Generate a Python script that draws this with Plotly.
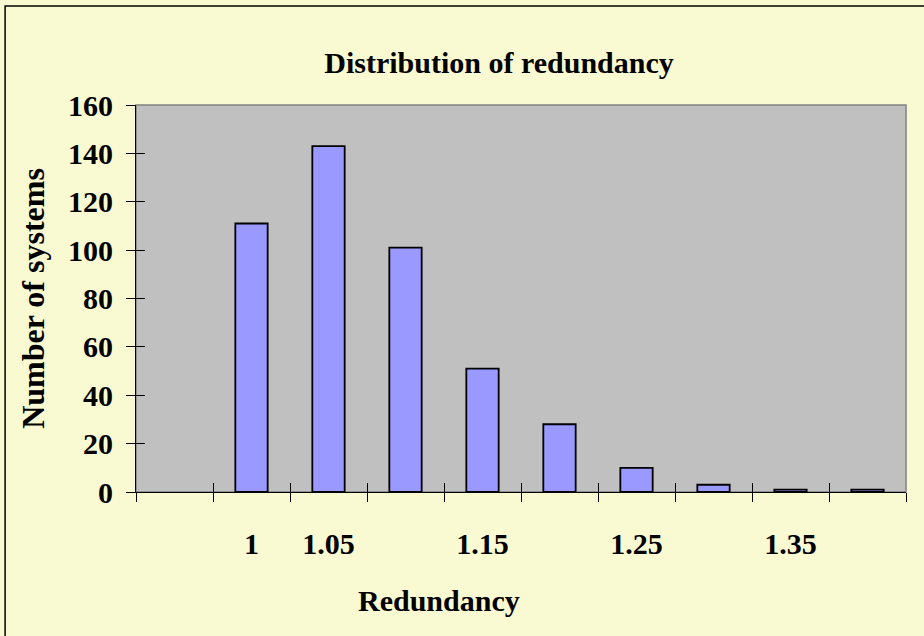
import plotly.graph_objects as go

categories = ["0.95", "1", "1.05", "1.1", "1.15", "1.2", "1.25", "1.3", "1.35", "1.4"]
tick_labels = ["", "1", "1.05", "", "1.15", "", "1.25", "", "1.35", ""]
counts = [None, 111, 143, 101, 51, 28, 10, 3, 1, 1]
y_ticks = [0, 20, 40, 60, 80, 100, 120, 140, 160]

FONT = "Liberation Serif"
BG = "#FAFAD2"
n = len(categories)
idx = list(range(n))
bounds = [i - 0.5 for i in range(n + 1)]

fig = go.Figure()
fig.add_trace(go.Bar(
    x=idx, y=counts,
    marker=dict(color="#9999FF", line=dict(color="black", width=1.8)),
    width=0.42,
    showlegend=False,
))

base_axis = dict(range=[-0.5, n - 0.5], showgrid=False, zeroline=False, fixedrange=True)
fig.update_layout(
    width=924, height=636,
    paper_bgcolor=BG, plot_bgcolor="#C0C0C0",
    margin=dict(l=136, r=18, t=105, b=144, autoexpand=False),
    title=dict(text="<b>Distribution of redundancy</b>", x=499 / 924, xanchor="center",
               y=1 - 62 / 636, yanchor="middle",
               font=dict(family=FONT, size=30, color="black")),
    font=dict(family=FONT, color="black"),
    xaxis=dict(**base_axis, tickvals=bounds, ticktext=[""] * len(bounds),
               ticks="outside", ticklen=9, tickwidth=1.2, tickcolor="black",
               showline=True, linecolor="black", linewidth=1.2),
    xaxis2=dict(**base_axis, overlaying="x", anchor="y", side="bottom",
                tickvals=bounds, ticktext=[""] * len(bounds),
                ticks="inside", ticklen=9, tickwidth=1.2, tickcolor="black", showline=False),
    xaxis3=dict(**base_axis, overlaying="x", anchor="y", side="bottom",
                tickvals=idx, ticktext=["<b>%s</b>" % t if t else "" for t in tick_labels],
                ticks="outside", ticklen=25, tickcolor="rgba(0,0,0,0)",
                tickfont=dict(family=FONT, size=30, color="black"), showline=False),
    yaxis=dict(range=[0, 160], tickvals=y_ticks, ticktext=["<b>%d</b>" % v for v in y_ticks],
               ticks="outside", ticklen=9, tickwidth=1.2, tickcolor="black",
               tickfont=dict(family=FONT, size=30, color="black"),
               ticklabelstandoff=7,
               showline=True, linecolor="black", linewidth=1.2,
               showgrid=False, zeroline=False, fixedrange=True,
               title=dict(text="<b>Number of systems</b>", font=dict(family=FONT, size=32), standoff=13)),
    yaxis2=dict(range=[0, 160], overlaying="y", anchor="x", side="left",
                tickvals=y_ticks, ticktext=[""] * len(y_ticks),
                ticks="inside", ticklen=9, tickwidth=1.2, tickcolor="black",
                showgrid=False, zeroline=False, showline=False, fixedrange=True),
    bargap=0.58,
)

# x-axis title (offset left of plot centre, as in the original)
fig.add_annotation(text="<b>Redundancy</b>", xref="paper", yref="paper",
                   x=(439 - 136) / 770, y=(492 - 600) / 387,
                   xanchor="center", yanchor="middle", showarrow=False,
                   font=dict(family=FONT, size=30, color="black"))

# invisible traces to activate overlay axes
fig.add_trace(go.Scatter(x=[0], y=[0], xaxis="x2", yaxis="y2", mode="markers",
                         marker=dict(opacity=0), showlegend=False, hoverinfo="skip"))
fig.add_trace(go.Scatter(x=[0], y=[0], xaxis="x3", yaxis="y", mode="markers",
                         marker=dict(opacity=0), showlegend=False, hoverinfo="skip"))

# plot-area border (gray) and outer chart border (black)
fig.add_shape(type="rect", xref="paper", yref="paper", x0=0, y0=0, x1=1, y1=1,
              line=dict(color="#808080", width=1.5), layer="below")
fig.add_shape(type="path", xref="paper", yref="paper",
              path="M -0.170,-0.5 L -0.170,1.2558 L 1.05,1.2558",
              line=dict(color="black", width=1.5))

fig.write_html("out.html", config={"displayModeBar": False},
               post_script="document.body.style.margin='0';")
